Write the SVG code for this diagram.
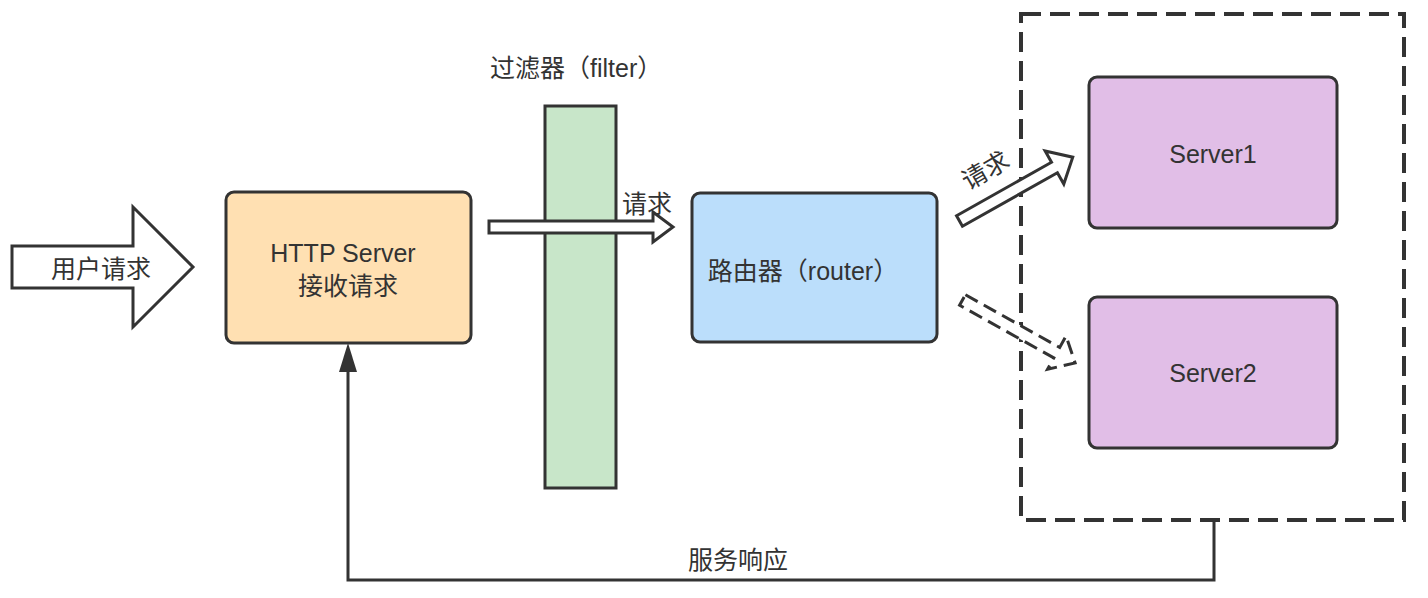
<svg xmlns="http://www.w3.org/2000/svg" width="1428" height="598" viewBox="0 0 1428 598">
  <style>
    .box { stroke: #333333; stroke-width: 3; }
    .t { font-family: "Liberation Sans", "Noto Sans CJK SC", sans-serif; font-size: 25px; fill: #333333; }
    .c { text-anchor: middle; }
    .hollow { fill: #ffffff; stroke: #333333; stroke-width: 3; stroke-linejoin: miter; }
    .dashed { stroke-dasharray: 14 7; }
    .line { fill: none; stroke: #333333; stroke-width: 3; }
  </style>
  <rect width="1428" height="598" fill="#ffffff"/>

  <g id="user-request">
    <path class="hollow" d="M12,246 L133,246 L133,207 L193,267 L133,327 L133,288 L12,288 Z"/>
    <text class="t c" x="101" y="278">用户请求</text>
  </g>

  <g id="http-server">
    <rect class="box" x="226" y="192" width="245" height="151" rx="8" fill="#ffe0b2"/>
    <text class="t c" x="343" y="262">HTTP Server</text>
    <text class="t c" x="348" y="295">接收请求</text>
  </g>

  <g id="filter">
    <text class="t" x="490" y="77">过滤器（filter）</text>
    <rect class="box" x="545" y="106" width="71" height="382" fill="#c8e6c9"/>
  </g>

  <g id="router">
    <rect class="box" x="692" y="193" width="245" height="149" rx="8" fill="#bbdefb"/>
    <text class="t c" x="803" y="280">路由器（router）</text>
  </g>

  <g id="server-group">
    <rect x="1021" y="14" width="383" height="506" fill="none" stroke="#333333" stroke-width="4" stroke-dasharray="20 9"/>
  </g>

  <g id="server1">
    <rect class="box" x="1089" y="77" width="248" height="151" rx="8" fill="#e1bee7"/>
    <text class="t c" x="1213" y="163">Server1</text>
  </g>

  <g id="server2">
    <rect class="box" x="1089" y="297" width="248" height="151" rx="8" fill="#e1bee7"/>
    <text class="t c" x="1213" y="382">Server2</text>
  </g>

  <g id="connectors">
    <path class="hollow" d="M489,221 L653,221 L653,212 L673,227 L653,242 L653,233 L489,233 Z"/>
    <text class="t c" x="647" y="213">请求</text>

    <g transform="translate(959.5,221) rotate(-29.4)">
      <path class="hollow" d="M0,-6 L109,-6 L109,-19 L130,0 L109,19 L109,6 L0,6 Z"/>
    </g>
    <text class="t c" transform="translate(990,178) rotate(-30)" x="0" y="0">请求</text>

    <g transform="translate(962.5,300) rotate(29.2)">
      <path class="hollow dashed" d="M0,-6 L108,-6 L108,-19 L129,0 L108,19 L108,6 L0,6 Z"/>
    </g>

    <path class="line" d="M1214,522 L1214,580 L348,580 L348,370"/>
    <path d="M348,343 L339,372 L357,372 Z" fill="#333333"/>
    <text class="t c" x="738" y="569">服务响应</text>
  </g>
</svg>
